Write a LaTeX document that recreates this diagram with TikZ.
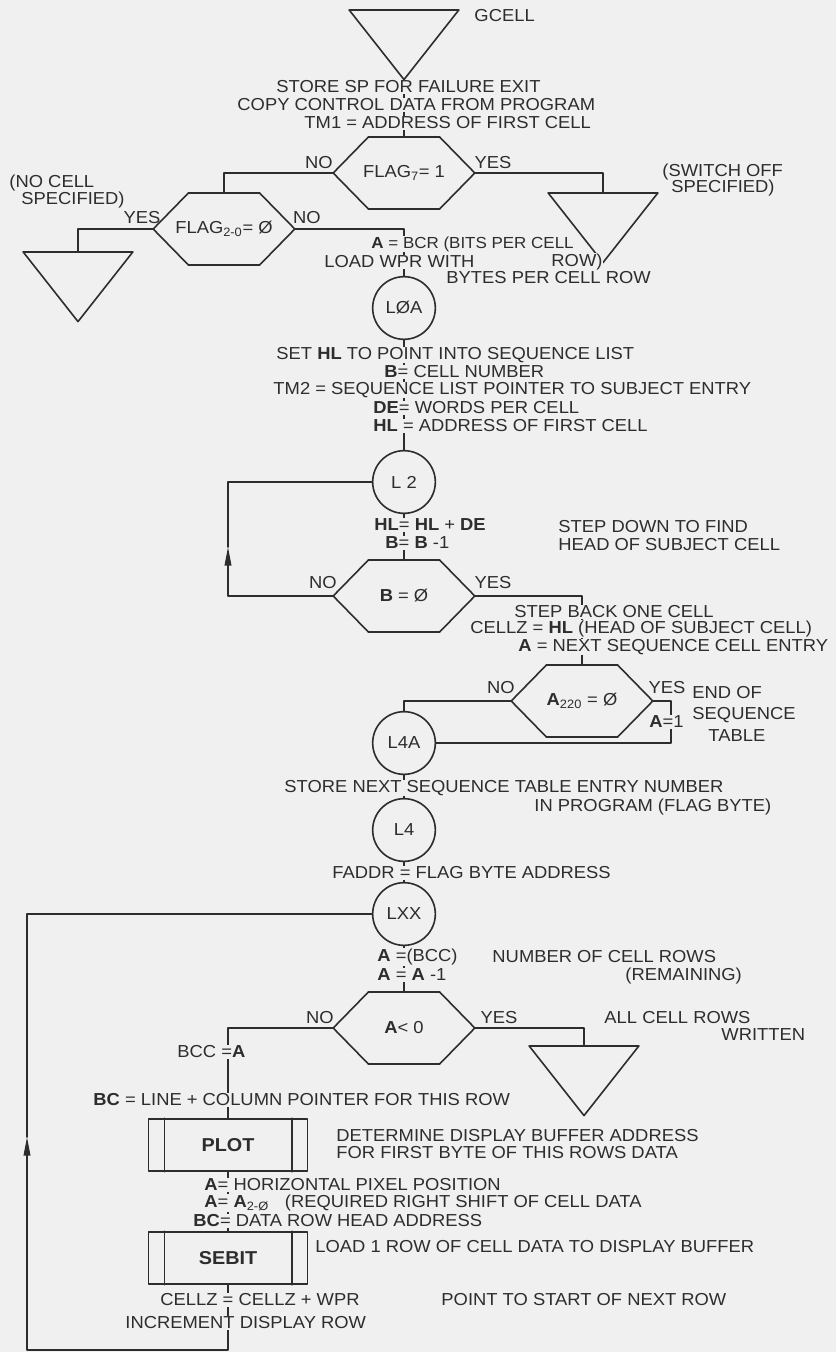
\documentclass[tikz,border=0pt]{standalone}
\usepackage{fontspec}
\setmainfont[FakeStretch=1.06]{Liberation Sans}
\usetikzlibrary{arrows.meta, positioning, calc}

\definecolor{paper}{RGB}{240,240,240}
\definecolor{ink}{RGB}{45,45,45}

\tikzset{
  hexa/.style={minimum width=105pt, minimum height=52.5pt, inner sep=1pt,
    append after command={
      (\tikzlastnode.west) edge ([xshift=26.25pt]\tikzlastnode.north west)
      ([xshift=26.25pt]\tikzlastnode.north west) edge ([xshift=-26.25pt]\tikzlastnode.north east)
      ([xshift=-26.25pt]\tikzlastnode.north east) edge (\tikzlastnode.east)
      (\tikzlastnode.east) edge ([xshift=-26.25pt]\tikzlastnode.south east)
      ([xshift=-26.25pt]\tikzlastnode.south east) edge ([xshift=26.25pt]\tikzlastnode.south west)
      ([xshift=26.25pt]\tikzlastnode.south west) edge (\tikzlastnode.west)}},
  term/.style={minimum width=81pt, minimum height=51pt, inner sep=0pt, anchor=north,
    append after command={
      (\tikzlastnode.north west) edge (\tikzlastnode.north east)
      (\tikzlastnode.north east) edge (\tikzlastnode.south)
      (\tikzlastnode.south) edge (\tikzlastnode.north west)}},
  proc/.style={draw, minimum width=119pt, minimum height=39pt,
    font=\fontsize{14pt}{15pt}\selectfont\bfseries,
    append after command={
      ([xshift=12.5pt]\tikzlastnode.north west) edge ([xshift=12.5pt]\tikzlastnode.south west)
      ([xshift=-12pt]\tikzlastnode.north east) edge ([xshift=-12pt]\tikzlastnode.south east)}},
  conn/.style={circle, draw, minimum size=47pt, inner sep=0pt},
  note/.style={anchor=west, inner sep=0.5pt, fill=paper},
  lbl/.style={inner sep=1pt},
  wire/.style={-{Triangle[length=14pt,width=5pt]}}
}

\begin{document}
\begin{tikzpicture}[x=0.75pt, y=-0.75pt, line width=1.2pt, line cap=round, line join=round,
    draw=ink, text=ink, font=\fontsize{13pt}{13.5pt}\selectfont]
  \useasboundingbox (0,0) rectangle (836,1352);
  \fill[paper] (0,0) rectangle (836,1352);

  \node[term] (gcell) at (404,10) {};
  \node[hexa] (flag7) at (404,173) {FLAG\textsubscript{7}= 1};
  \node[term] (swoff) at (603,193) {};
  \node[hexa] (flagz) at (224,229) {FLAG\textsubscript{2-0}= Ø};
  \node[term] (nocell) at (78,252) {};
  \node[conn] (l0a) at (404,308) {LØA};
  \node[conn] (l2) at (404,482) {L 2};
  \node[hexa] (bzero) at (404,596) {\textbf{B} = Ø};
  \node[hexa] (azero) at (582,701) {\textbf{A}\textsubscript{220} = Ø};
  \node[conn] (l4a) at (404,743) {L4A};
  \node[conn] (l4) at (404,830) {L4};
  \node[conn] (lxx) at (404,914) {LXX};
  \node[hexa] (aneg) at (404,1028) {\textbf{A}< 0};
  \node[term] (alldone) at (584,1046) {};
  \node[proc] (plot) at (228,1145) {PLOT};
  \node[proc] (sebit) at (228,1258) {SEBIT};

  \coordinate (up2) at (228,547);
  \coordinate (eot) at (671,743);
  \coordinate (back) at (27,1137);
  \coordinate (floor) at (27,1350);

  \draw (gcell.south) -- (flag7.north);
  \draw (flag7.west) -| (flagz.north);
  \draw (flag7.east) -| (swoff.north);
  \draw (flagz.west) -| (nocell.north);
  \draw (flagz.east) -| (l0a.north);
  \draw (l0a.south) -- (l2.north);
  \draw (l2.south) -- (bzero.north);
  \draw[wire] (bzero.west) -| (up2);
  \draw (up2) |- (l2.west);
  \draw (bzero.east) -| (azero.north);
  \draw (azero.west) -| (l4a.north);
  \draw (azero.east) -| (eot) -- (l4a.east);
  \draw (l4a.south) -- (l4.north);
  \draw (l4.south) -- (lxx.north);
  \draw (lxx.south) -- (aneg.north);
  \draw (aneg.east) -| (alldone.north);
  \draw (aneg.west) -| (plot.north);
  \draw (plot.south) -- (sebit.north);
  \draw[wire] (sebit.south) |- (floor) -- (back);
  \draw (back) |- (lxx.west);

  \node[note] (gname) at (473,16) {GCELL};
  \node[note] (savesp) at (275,87) {STORE SP FOR FAILURE EXIT};
  \node[note] (copyctl) at (236,105) {COPY CONTROL DATA FROM PROGRAM};
  \node[note] (tmone) at (303,123) {TM1 = ADDRESS OF FIRST CELL};
  \node[lbl] (no1) at (319,163) {NO};
  \node[lbl] (yes1) at (493,163) {YES};
  \node[note] (swa) at (661,172) {(SWITCH OFF};
  \node[note] (swb) at (670,188) {SPECIFIED)};
  \node[note] (nca) at (8,183) {(NO CELL};
  \node[note] (ncb) at (20,200) {SPECIFIED)};
  \node[lbl] (yes2) at (142,218) {YES};
  \node[lbl] (no2) at (307,218) {NO};
  \node[note, font=\fontsize{12pt}{13pt}\selectfont] (bcr) at (370,244) {\textbf{A} = BCR (BITS PER CELL};
  \node[note] (wpr) at (323,262) {LOAD WPR WITH};
  \node[note] (bcrrow) at (550,262) {ROW)};
  \node[note] (bpcr) at (445,278) {BYTES PER CELL ROW};

  \node[note] (sethl) at (275,355) {SET \textbf{HL} TO POINT INTO SEQUENCE LIST};
  \node[note] (cellno) at (383,372) {\textbf{B}= CELL NUMBER};
  \node[note] (tmtwo) at (272,390) {TM2 = SEQUENCE LIST POINTER TO SUBJECT ENTRY};
  \node[note] (wpc) at (372,408) {\textbf{DE}= WORDS PER CELL};
  \node[note] (hlfirst) at (372,426) {\textbf{HL} = ADDRESS OF FIRST CELL};

  \node[note] (hlde) at (373,525) {\textbf{HL}= \textbf{HL} + \textbf{DE}};
  \node[note] (bdec) at (384,543) {\textbf{B}= \textbf{B} -1};
  \node[note] (stepa) at (557,527) {STEP DOWN TO FIND};
  \node[note] (stepb) at (557,545) {HEAD OF SUBJECT CELL};
  \node[lbl] (no3) at (323,583) {NO};
  \node[lbl] (yes3) at (493,583) {YES};

  \node[note] (backa) at (513,612) {STEP BACK ONE CELL};
  \node[note] (backb) at (469,629) {CELLZ = \textbf{HL} (HEAD OF SUBJECT CELL)};
  \node[note] (backc) at (517,647) {\textbf{A} = NEXT SEQUENCE CELL ENTRY};
  \node[lbl] (no4) at (501,688) {NO};
  \node[lbl] (yes4) at (667,688) {YES};
  \node[note] (aone) at (648,722) {\textbf{A}=1};
  \node[note] (eota) at (691,693) {END OF};
  \node[note] (eotb) at (691,715) {SEQUENCE};
  \node[note] (eotc) at (707,736) {TABLE};

  \node[note] (nexta) at (283,788) {STORE NEXT SEQUENCE TABLE ENTRY NUMBER};
  \node[note] (nextb) at (533,807) {IN PROGRAM (FLAG BYTE)};
  \node[note] (faddr) at (331,873) {FADDR = FLAG BYTE ADDRESS};

  \node[note] (bcc) at (376,957) {\textbf{A} =(BCC)};
  \node[note] (adec) at (376,975) {\textbf{A} = \textbf{A} -1};
  \node[note] (rowsa) at (491,957) {NUMBER OF CELL ROWS};
  \node[note] (rowsb) at (624,976) {(REMAINING)};
  \node[lbl] (no5) at (320,1018) {NO};
  \node[lbl] (yes5) at (499,1018) {YES};
  \node[note] (alla) at (603,1018) {ALL CELL ROWS};
  \node[note] (allb) at (720,1035) {WRITTEN};
  \node[note] (bcca) at (176,1052) {BCC =\textbf{A}};

  \node[note] (bcptr) at (92,1100) {\textbf{BC} = LINE + COLUMN POINTER FOR THIS ROW};
  \node[note] (dispa) at (335,1136) {DETERMINE DISPLAY BUFFER ADDRESS};
  \node[note] (dispb) at (335,1153) {FOR FIRST BYTE OF THIS ROWS DATA};
  \node[note] (pixa) at (203,1185) {\textbf{A}= HORIZONTAL PIXEL POSITION};
  \node[note] (pixb) at (203,1203) {\textbf{A}= \textbf{A}\textsubscript{2-Ø}\hspace{12pt}(REQUIRED RIGHT SHIFT OF CELL DATA};
  \node[note] (pixc) at (192,1221) {\textbf{BC}= DATA ROW HEAD ADDRESS};
  \node[note] (loadrow) at (314,1247) {LOAD 1 ROW OF CELL DATA TO DISPLAY BUFFER};
  \node[note] (wpradd) at (159,1300) {CELLZ = CELLZ + WPR};
  \node[note] (incrow) at (124,1323) {INCREMENT DISPLAY ROW};
  \node[note] (nextrow) at (440,1300) {POINT TO START OF NEXT ROW};
\end{tikzpicture}
\end{document}
